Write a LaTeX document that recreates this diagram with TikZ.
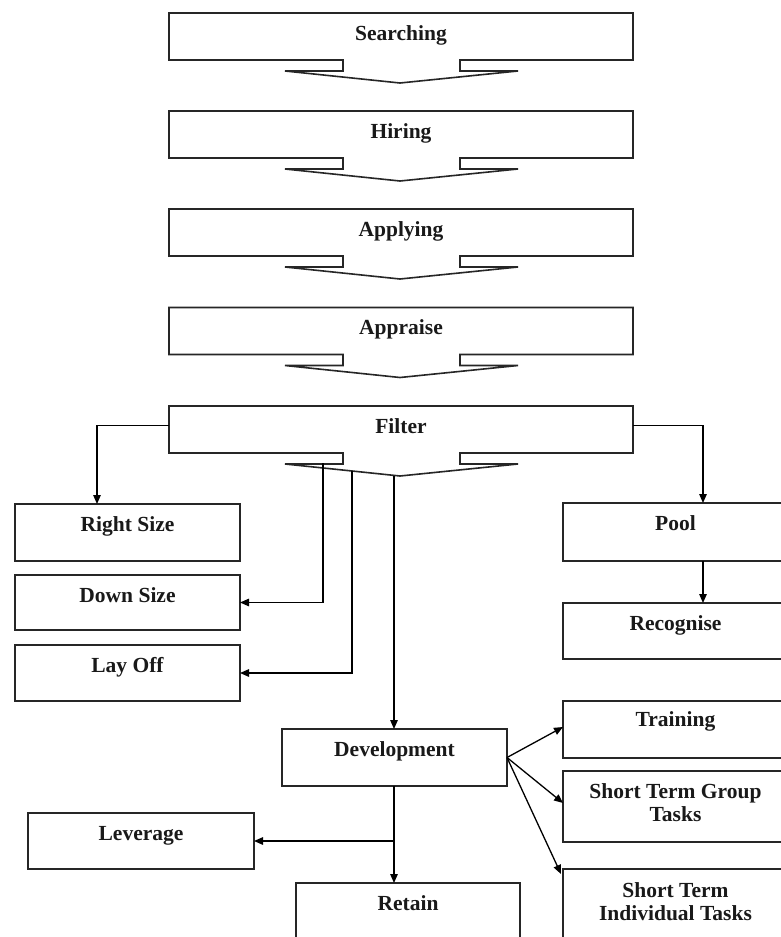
\documentclass[tikz,border=0pt]{standalone}
\usepackage{fontspec}
\setmainfont{Liberation Serif}
\usetikzlibrary{arrows.meta,calc}
\begin{document}
\begin{tikzpicture}[x=1pt,y=-1pt,
  box/.style={draw=black!85,line width=1.6pt,rectangle,inner sep=0,outer sep=0},
  calloutbox/.style={rectangle,inner sep=0,outer sep=0,minimum width=464,minimum height=47},
  outline/.style={draw=black!85,line width=1.6pt,line join=miter},
  lbl/.style={font=\fontsize{21.5}{23}\selectfont\bfseries,anchor=base,inner sep=0,text=black!90},
  multi/.style={font=\fontsize{21.5}{23}\selectfont\bfseries,anchor=north,inner sep=0,align=center,text=black!90},
  conn/.style={draw=black,line width=1.3pt,-{Triangle[length=9pt,width=7.5pt]}}]
\useasboundingbox (0,0) rectangle (781,937);
\begin{scope}
\clip (0,0) rectangle (781,937);
\fill[white] (0,0) rectangle (781,937);
% top callout boxes
\node[calloutbox] (search) at (401,36.5) {};
\node[calloutbox] (hire)   at (401,134.5) {};
\node[calloutbox] (apply)  at (401,232.5) {};
\node[calloutbox] (appr)   at (401,331) {};
\node[calloutbox] (filt)   at (401,429.5) {};
\foreach \b in {search,hire,apply,appr,filt}{
  \draw[outline] (\b.north west) -- (\b.north east) -- (\b.south east)
    -- ($(\b.south)+(59,0)$) -- ($(\b.south)+(59,11)$) -- ($(\b.south)+(117,11)$)
    -- ($(\b.south)+(-1,23)$) -- ($(\b.south)+(-116,11)$) -- ($(\b.south)+(-58,11)$)
    -- ($(\b.south)+(-58,0)$) -- (\b.south west) -- cycle;
}
\node[lbl] (searchT) at ($(search.north)+(0,27)$) {Searching};
\node[lbl] (hireT)   at ($(hire.north)+(0,27)$) {Hiring};
\node[lbl] (applyT)  at ($(apply.north)+(0,27)$) {Applying};
\node[lbl] (apprT)   at ($(appr.north)+(0,27)$) {Appraise};
\node[lbl] (filtT)   at ($(filt.north)+(0,27)$) {Filter};
% left boxes
\node[box,minimum width=225,minimum height=57] (rsize) at (127.5,532.5) {};
\node[box,minimum width=225,minimum height=55] (dsize) at (127.5,602.5) {};
\node[box,minimum width=225,minimum height=56] (layoff) at (127.5,673) {};
\node[box,minimum width=226,minimum height=56] (lev) at (141,841) {};
% right boxes
\node[box,minimum width=225,minimum height=58] (pool) at (675.5,532) {};
\node[box,minimum width=225,minimum height=56] (recog) at (675.5,631) {};
\node[box,minimum width=225,minimum height=57] (train) at (675.5,729.5) {};
\node[box,minimum width=225,minimum height=71] (stgt) at (675.5,806.5) {};
\node[box,minimum width=225,minimum height=100] (stit) at (675.5,919) {};
% middle boxes
\node[box,minimum width=225,minimum height=57] (dev) at (394.5,757.5) {};
\node[box,minimum width=224,minimum height=100] (retain) at (408,933) {};
% labels
\node[lbl] (rsizeT) at ($(rsize.north)+(0,27)$) {Right Size};
\node[lbl] (dsizeT) at ($(dsize.north)+(0,27)$) {Down Size};
\node[lbl] (layoffT) at ($(layoff.north)+(0,27)$) {Lay Off};
\node[lbl] (levT) at ($(lev.north)+(0,27)$) {Leverage};
\node[lbl] (poolT) at ($(pool.north)+(0,27)$) {Pool};
\node[lbl] (recogT) at ($(recog.north)+(0,27)$) {Recognise};
\node[lbl] (trainT) at ($(train.north)+(0,25)$) {Training};
\node[multi] (stgtT) at ($(stgt.north)+(0,12)$) {Short Term Group\\Tasks};
\node[multi] (stitT) at ($(stit.north)+(0,13.5)$) {Short Term\\Individual Tasks};
\node[lbl] (devT) at ($(dev.north)+(0,27)$) {Development};
\node[lbl] (retainT) at ($(retain.north)+(0,27)$) {Retain};
% connectors from Filter
\coordinate (f1) at ($(filt.south)+(-78,10)$);
\coordinate (f2) at ($(filt.south)+(-49,18)$);
\coordinate (f3) at ($(filt.south)+(-7,23)$);
\draw[conn] ([yshift=4]filt.west) -| ([xshift=-30.5]rsize.north);
\draw[conn] ([yshift=4]filt.east) -| ([xshift=27.5]pool.north);
\draw[conn] ([xshift=27.5]pool.south) -- ([xshift=27.5]recog.north);
\draw[conn] (f1) |- (dsize.east);
\draw[conn] (f2) |- (layoff.east);
\draw[conn] (f3) -- (f3 |- dev.north);
% connectors from Development
\draw[conn] (dev.east) -- ([yshift=2.5]train.west);
\draw[conn] (dev.east) -- ([yshift=3.5]stgt.west);
\draw[conn] (dev.east) -- ([xshift=-2,yshift=-5]stit.north west);
\draw[conn] (f3 |- dev.south) -- (f3 |- retain.north);
\draw[conn] (f3 |- lev.east) -- (lev.east);
\end{scope}
\end{tikzpicture}
\end{document}
